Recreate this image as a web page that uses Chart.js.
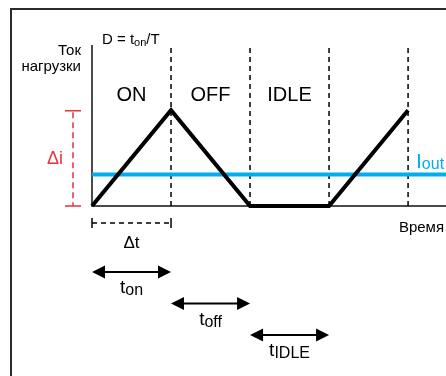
<!DOCTYPE html>
<html>
<head>
<meta charset="utf-8">
<script src="https://cdn.jsdelivr.net/npm/chart.js@4/dist/chart.umd.min.js"></script>
<style>
  html, body { margin: 0; padding: 0; background: #fff; overflow: hidden; }
  #wrap { width: 446px; height: 376px; }
  #chart { display: block; }
</style>
</head>
<body>
<div id="wrap"><canvas id="chart" width="446" height="376"></canvas></div>
<script>
'use strict';

// switching phases, one period unit each
const phaseNames = ['ON', 'OFF', 'IDLE'];
const phaseEdges = [1, 2, 3, 4];

// load current waveform (time in period units, current relative to the peak)
const waveTimes = [0, 1, 2, 3, 4];
const waveCurrent = [0, 1, 0, 0, 1];

// average output current
const outputCurrent = 0.33;

// duration arrows under the time axis
const durationSubs = ['on', 'off', 'IDLE'];
const durationFrom = [0, 1, 2];
const durationTo = [1, 2, 3];

// axis ranges
const timeMax = 4.48;
const currentMax = 1.68;

const FONT = '"Liberation Sans", Arial, sans-serif';
const RED = '#e5323b';
const BLUE = '#00aeef';

function font(size) {
  return size + 'px ' + FONT;
}

// draws text with a subscript part, anchored by align at x
function drawSubText(ctx, main, sub, x, y, mainSize, subSize, drop, align, tail) {
  ctx.font = font(mainSize);
  let w1 = ctx.measureText(main).width;
  let w3 = tail ? ctx.measureText(tail).width : 0;
  ctx.font = font(subSize);
  let w2 = ctx.measureText(sub).width;
  let total = w1 + w2 + w3;
  let start = x;
  if (align === 'center') start = x - total / 2;
  if (align === 'right') start = x - total;
  ctx.textAlign = 'left';
  ctx.textBaseline = 'alphabetic';
  ctx.font = font(mainSize);
  ctx.fillText(main, start, y);
  ctx.font = font(subSize);
  ctx.fillText(sub, start + w1, y + drop);
  if (tail) {
    ctx.font = font(mainSize);
    ctx.fillText(tail, start + w1 + w2, y);
  }
}

function arrowHead(ctx, tipX, y, dir) {
  ctx.beginPath();
  ctx.moveTo(tipX, y);
  ctx.lineTo(tipX + dir * 13, y - 6.5);
  ctx.lineTo(tipX + dir * 13, y + 6.5);
  ctx.closePath();
  ctx.fill();
}

const framePlugin = {
  id: 'frame',
  beforeDraw(chart) {
    const ctx = chart.ctx;
    ctx.save();
    ctx.fillStyle = '#fff';
    ctx.fillRect(0, 0, chart.width, chart.height);
    ctx.strokeStyle = '#2b2b2b';
    ctx.lineWidth = 2;
    ctx.beginPath();
    ctx.moveTo(11, chart.height);
    ctx.lineTo(11, 9);
    ctx.lineTo(chart.width, 9);
    ctx.stroke();
    ctx.restore();
  }
};

const labelPlugin = {
  id: 'labels',
  afterDatasetsDraw(chart) {
    const ctx = chart.ctx;
    const x = chart.scales.x;
    const y = chart.scales.y;
    const area = chart.chartArea;
    const base = y.getPixelForValue(0);
    const peak = y.getPixelForValue(1);
    ctx.save();
    ctx.fillStyle = '#000';
    ctx.strokeStyle = '#000';

    // axis titles
    ctx.font = font(15);
    ctx.textAlign = 'right';
    ctx.fillText('Ток', area.left - 11, 55);
    ctx.fillText('нагрузки', area.left - 11, 71);
    ctx.fillText('Время', chart.width - 2, base + 26);
    drawSubText(ctx, 'D = t', 'on', area.left + 10, 44, 15, 11, 2, 'left', '/T');

    // phase names
    ctx.font = font(20);
    ctx.textAlign = 'center';
    phaseNames.forEach((name, i) => {
      ctx.fillText(name, x.getPixelForValue(i + 0.5), 101);
    });

    // output current label
    ctx.fillStyle = BLUE;
    drawSubText(ctx, 'I', 'out', chart.width - 30, y.getPixelForValue(outputCurrent) - 6, 21, 16, 1, 'left');

    // ripple bracket
    const bx = area.left - 19;
    ctx.strokeStyle = RED;
    ctx.fillStyle = RED;
    ctx.lineWidth = 1.5;
    ctx.setLineDash([6, 4]);
    ctx.beginPath();
    ctx.moveTo(bx, peak + 2);
    ctx.lineTo(bx, base);
    ctx.stroke();
    ctx.setLineDash([]);
    ctx.beginPath();
    ctx.moveTo(bx - 8, peak + 0.5);
    ctx.lineTo(bx + 8, peak + 0.5);
    ctx.moveTo(bx - 8, base);
    ctx.lineTo(bx + 8, base);
    ctx.stroke();
    ctx.font = font(18);
    ctx.textAlign = 'right';
    ctx.fillText('\u0394i', bx - 10, (peak + base) / 2 + 6);

    // on-time bracket
    const x0 = x.getPixelForValue(0);
    const x1 = x.getPixelForValue(1);
    const dy = base + 17;
    ctx.strokeStyle = '#000';
    ctx.fillStyle = '#000';
    ctx.setLineDash([5, 4]);
    ctx.beginPath();
    ctx.moveTo(x0, dy);
    ctx.lineTo(x1, dy);
    ctx.stroke();
    ctx.setLineDash([]);
    ctx.beginPath();
    ctx.moveTo(x0, dy - 5);
    ctx.lineTo(x0, dy + 5);
    ctx.moveTo(x1, dy - 5);
    ctx.lineTo(x1, dy + 5);
    ctx.stroke();
    ctx.font = font(17);
    ctx.textAlign = 'center';
    ctx.fillText('\u0394t', (x0 + x1) / 2, base + 42);

    // duration arrows
    ctx.lineWidth = 2;
    durationSubs.forEach((sub, i) => {
      const a = x.getPixelForValue(durationFrom[i]);
      const b = x.getPixelForValue(durationTo[i]);
      const ay = base + 66 + i * 31.5;
      ctx.beginPath();
      ctx.moveTo(a + 8, ay);
      ctx.lineTo(b - 8, ay);
      ctx.stroke();
      arrowHead(ctx, a, ay, 1);
      arrowHead(ctx, b, ay, -1);
      drawSubText(ctx, 't', sub, (a + b) / 2, ay + 21, 19, 16, 2, 'center');
    });
    ctx.restore();
  }
};

const points = (xs, ys) => xs.map((t, i) => ({ x: t, y: ys[i] }));

const boundaryPoints = phaseEdges.flatMap(e => [
  { x: e, y: 0 },
  { x: e, y: currentMax },
  { x: e, y: null }
]);

new Chart(document.getElementById('chart').getContext('2d'), {
  type: 'line',
  data: {
    datasets: [
      {
        label: 'load current',
        data: points(waveTimes, waveCurrent),
        borderColor: '#000',
        borderWidth: 4,
        borderJoinStyle: 'miter',
        pointRadius: 0,
        clip: false
      },
      {
        label: 'Iout',
        data: [{ x: 0, y: outputCurrent }, { x: timeMax, y: outputCurrent }],
        borderColor: BLUE,
        borderWidth: 4,
        pointRadius: 0,
        clip: false
      },
      {
        label: 'phases',
        data: boundaryPoints,
        borderColor: '#000',
        borderWidth: 1.5,
        borderDash: [5, 4],
        pointRadius: 0,
        spanGaps: false,
        clip: false
      },
      {
        label: 'axes',
        data: [{ x: 0, y: currentMax }, { x: 0, y: 0 }, { x: timeMax, y: 0 }],
        borderColor: '#111',
        borderWidth: 1.5,
        pointRadius: 0,
        clip: false
      }
    ]
  },
  options: {
    responsive: false,
    animation: false,
    events: [],
    layout: { padding: { left: 92, top: 45, right: 0, bottom: 170 } },
    scales: {
      x: { type: 'linear', min: 0, max: timeMax, display: false },
      y: { type: 'linear', min: 0, max: currentMax, display: false }
    },
    plugins: {
      legend: { display: false },
      tooltip: { enabled: false }
    }
  },
  plugins: [framePlugin, labelPlugin]
});
</script>
</body>
</html>
